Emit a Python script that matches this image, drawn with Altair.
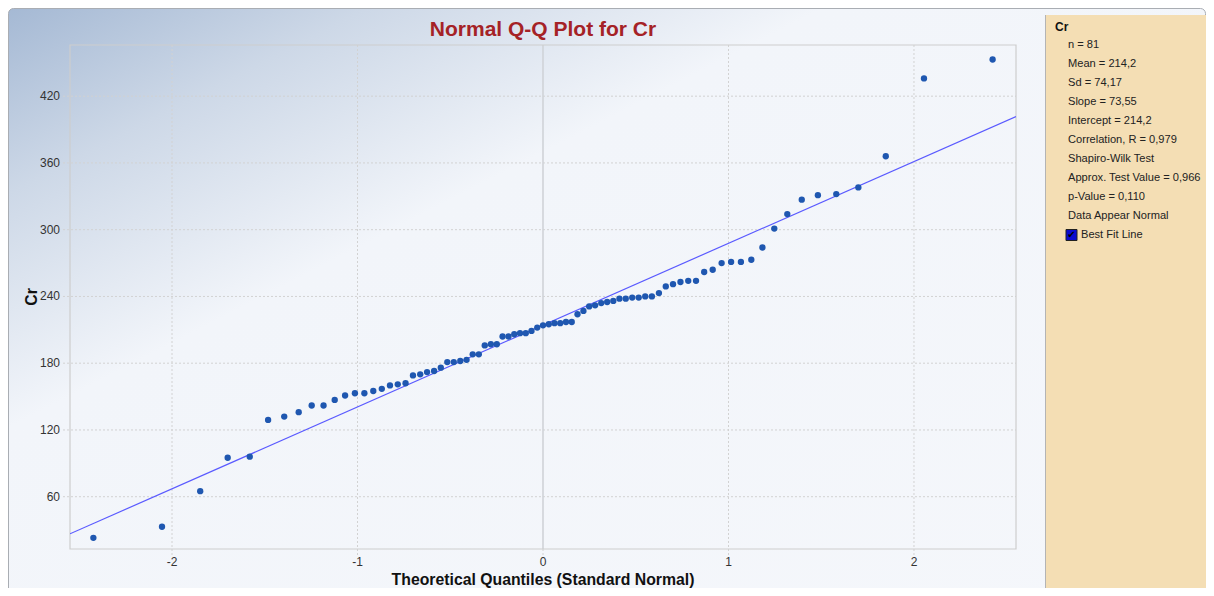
import altair as alt
import pandas as pd

# Theoretical quantiles (standard normal, Blom positions) for n = 81
theoretical_q = [
    -2.424, -2.054, -1.848, -1.700, -1.581, -1.482, -1.395, -1.317, -1.247, -1.183,
    -1.123, -1.067, -1.014, -0.963, -0.915, -0.869, -0.825, -0.783, -0.741, -0.701,
    -0.662, -0.625, -0.587, -0.551, -0.516, -0.481, -0.446, -0.412, -0.379, -0.346,
    -0.314, -0.281, -0.249, -0.218, -0.186, -0.155, -0.124, -0.093, -0.062, -0.031,
    0.000,
    0.031, 0.062, 0.093, 0.124, 0.155, 0.186, 0.218, 0.249, 0.281, 0.314,
    0.346, 0.379, 0.412, 0.446, 0.481, 0.516, 0.551, 0.587, 0.625, 0.662,
    0.701, 0.741, 0.783, 0.825, 0.869, 0.915, 0.963, 1.014, 1.067, 1.123,
    1.183, 1.247, 1.317, 1.395, 1.482, 1.581, 1.700, 1.848, 2.054, 2.424,
]

# Sorted Cr values
cr_values = [
    23, 33, 65, 95, 96, 129, 132, 136, 142, 142,
    147, 151, 153, 153, 155, 157, 160, 161, 162, 169,
    170, 172, 173, 176, 181, 181, 182, 183, 188, 188,
    196, 197, 197, 204, 204, 206, 207, 207, 209, 212,
    214,
    215, 216, 216, 217, 217, 224, 227, 231, 232, 234,
    235, 236, 238, 238, 239, 239, 240, 240, 243, 249,
    251, 253, 254, 254, 262, 264, 270, 271, 271, 273,
    284, 301, 314, 327, 331, 332, 338, 366, 436, 453,
]

x_ticks = [-2, -1, 0, 1, 2]
y_ticks = [60, 120, 180, 240, 300, 360, 420]
x_domain = [-2.55, 2.55]
y_domain = [13, 466]

slope = 73.55
intercept = 214.2

chart_title = "Normal Q-Q Plot for Cr"
x_title = "Theoretical Quantiles (Standard Normal)"
y_title = "Cr"
legend_title = "Cr"
stats_lines = [
    "n = 81",
    "Mean = 214,2",
    "Sd = 74,17",
    "Slope = 73,55",
    "Intercept = 214,2",
    "Correlation, R = 0,979",
    "Shapiro-Wilk Test",
    "Approx. Test Value = 0,966",
    "p-Value = 0,110",
    "Data Appear Normal",
]
legend_item = "Best Fit Line"

W, H = 946, 504
FONT = "Liberation Sans"

df = pd.DataFrame({"q": theoretical_q, "cr": cr_values})
one = pd.DataFrame({"k": [0]})
xt = pd.DataFrame({"v": x_ticks})
yt = pd.DataFrame({"v": y_ticks})

xscale = alt.Scale(domain=x_domain, nice=False, zero=False)
yscale = alt.Scale(domain=y_domain, nice=False, zero=False)

# ---- decorative panels -------------------------------------------------
frame = alt.Chart(one).mark_rect(
    fill=alt.Gradient(
        gradient="linear",
        stops=[
            alt.GradientStop(color="#a5b9d4", offset=0),
            alt.GradientStop(color="#cdd8e7", offset=0.15),
            alt.GradientStop(color="#f2f5fa", offset=0.34),
            alt.GradientStop(color="#f5f7fb", offset=1),
        ],
        x1=0, y1=0, x2=1, y2=1,
    ),
    stroke="#a9adb3", strokeWidth=1, cornerRadius=5,
).encode(x=alt.value(-61.5), x2=alt.value(1135.5), y=alt.value(-36.5), y2=alt.value(580))

beige = alt.Chart(one).mark_rect(fill="#f4deb4").encode(
    x=alt.value(975.5), x2=alt.value(1136), y=alt.value(-30), y2=alt.value(580)
)
beige_edge = alt.Chart(one).mark_rule(color="#b4b4b4", strokeWidth=1).encode(
    x=alt.value(975.5), y=alt.value(-30), y2=alt.value(580)
)

# ---- grid, ticks, border ----------------------------------------------
hgrid = alt.Chart(yt).mark_rule(color="#d2d2d2", strokeDash=[2, 2], strokeWidth=1).encode(
    y=alt.Y("v:Q", scale=yscale, axis=None), x=alt.value(-7), x2=alt.value(W)
)
vgrid = alt.Chart(xt).transform_filter("datum.v != 0").mark_rule(
    color="#d2d2d2", strokeDash=[2, 2], strokeWidth=1
).encode(x=alt.X("v:Q", scale=xscale, axis=None), y=alt.value(0), y2=alt.value(H + 7))
zero_line = alt.Chart(xt).transform_filter("datum.v == 0").mark_rule(
    color="#d0d3d8", strokeWidth=1.6
).encode(x=alt.X("v:Q", scale=xscale, axis=None), y=alt.value(0), y2=alt.value(H))
zero_tick = alt.Chart(xt).transform_filter("datum.v == 0").mark_rule(
    color="#d2d2d2", strokeDash=[2, 2], strokeWidth=1
).encode(x=alt.X("v:Q", scale=xscale, axis=None), y=alt.value(H), y2=alt.value(H + 7))

border = alt.Chart(one).mark_rect(fillOpacity=0, stroke="#cdcdcd", strokeWidth=1.2).encode(
    x=alt.value(0), x2=alt.value(W), y=alt.value(0), y2=alt.value(H)
)

# ---- titles, tick labels -----------------------------------------------
title_mark = alt.Chart(one).mark_text(
    text=chart_title, font=FONT, fontSize=21, fontWeight="bold", color="#a52226",
    align="center", baseline="middle",
).encode(x=alt.value(W / 2), y=alt.value(-15))

xlabels = alt.Chart(xt).transform_calculate(t="'' + datum.v").mark_text(
    font=FONT, fontSize=12, color="#333333", align="center", baseline="top"
).encode(x=alt.X("v:Q", scale=xscale, axis=None), y=alt.value(H + 8), text="t:N")
ylabels = alt.Chart(yt).transform_calculate(t="'' + datum.v").mark_text(
    font=FONT, fontSize=12, color="#333333", align="right", baseline="middle"
).encode(y=alt.Y("v:Q", scale=yscale, axis=None), x=alt.value(-10), text="t:N")

xtitle = alt.Chart(one).mark_text(
    text=x_title, font=FONT, fontSize=15.8, fontWeight="bold", color="#111111",
    align="center", baseline="middle",
).encode(x=alt.value(W / 2), y=alt.value(H + 31))
ytitle = alt.Chart(one).mark_text(
    text=y_title, font=FONT, fontSize=15.8, fontWeight="bold", color="#111111",
    align="center", baseline="middle", angle=270,
).encode(x=alt.value(-38), y=alt.value(H / 2))

# ---- data --------------------------------------------------------------
fit = alt.Chart(pd.DataFrame({"q": x_domain})).transform_calculate(
    cr=f"{intercept} + {slope} * datum.q"
).mark_line(color="#5a5aff", strokeWidth=1.2, clip=True).encode(
    x=alt.X("q:Q", scale=xscale, axis=None),
    y=alt.Y("cr:Q", scale=yscale, axis=None),
)

points = alt.Chart(df).mark_circle(size=40, color="#1f57b0", opacity=1).encode(
    x=alt.X("q:Q", scale=xscale, axis=None, title=x_title),
    y=alt.Y("cr:Q", scale=yscale, axis=None, title=y_title),
)

# ---- statistics panel --------------------------------------------------
head = alt.Chart(one).mark_text(
    text=legend_title, font=FONT, fontSize=12, fontWeight="bold", color="#111111",
    align="left", baseline="middle",
).encode(x=alt.value(985), y=alt.value(-18))

stats = alt.Chart(one).mark_text(
    text=stats_lines, font=FONT, fontSize=11.1, color="#222222",
    align="left", baseline="top", lineHeight=19,
).encode(x=alt.value(998), y=alt.value(-6))

checkbox = alt.Chart(one).mark_rect(fill="#0a0ad0", stroke="#202020", strokeWidth=1).encode(
    x=alt.value(996), x2=alt.value(1007), y=alt.value(184.5), y2=alt.value(195.5)
)
check = alt.Chart(one).mark_text(
    text="✔", font="DejaVu Sans", fontSize=10, color="#000000", align="center", baseline="middle"
).encode(x=alt.value(1001.5), y=alt.value(190))
item = alt.Chart(one).mark_text(
    text=legend_item, font=FONT, fontSize=11.1, color="#222222", align="left", baseline="middle"
).encode(x=alt.value(1011), y=alt.value(190))

chart = alt.layer(
    frame, beige, beige_edge, hgrid, vgrid, zero_line, zero_tick, border,
    title_mark, xlabels, ylabels, xtitle, ytitle, fit, points,
    head, stats, checkbox, check, item,
).properties(
    width=W, height=H,
    autosize=alt.AutoSizeParams(type="none"),
    padding={"left": 62, "top": 37, "right": 190, "bottom": 39},
).configure(background="white").configure_view(stroke=None)

chart.save("out.html", embed_options={"renderer": "svg", "actions": False})
